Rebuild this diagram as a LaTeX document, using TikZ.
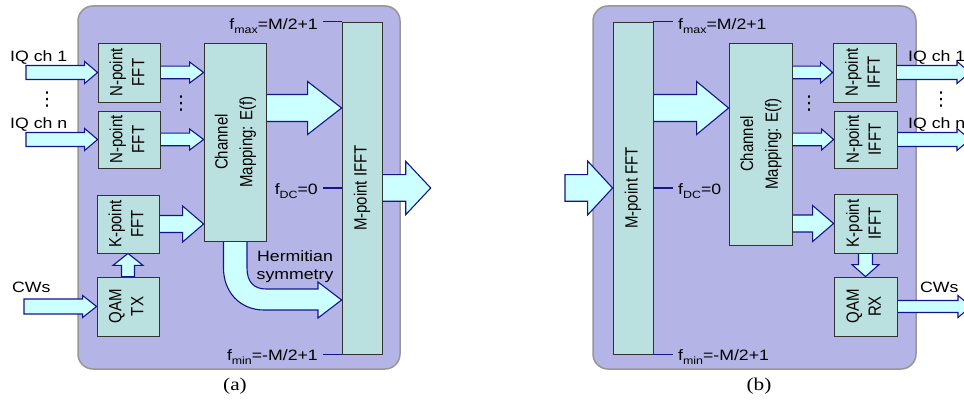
\documentclass[tikz,border=0pt]{standalone}
\usepackage{fontspec}
\setmainfont{Liberation Sans}
\newfontfamily\capfont{Liberation Serif}
\newfontfamily\symfont{DejaVu Sans}
\usetikzlibrary{calc}

\definecolor{panelfill}{RGB}{180,180,230}
\definecolor{paneledge}{RGB}{150,150,150}
\definecolor{boxfill}{RGB}{186,224,224}
\definecolor{boxedge}{RGB}{50,50,50}
\definecolor{arrfill}{RGB}{204,255,255}
\definecolor{arredge}{RGB}{20,20,140}

\pgfdeclarelayer{back}
\pgfdeclarelayer{mid}
\pgfsetlayers{back,mid,main}

% wide sans lettering
\newcommand\st[1]{\scalebox{1.18}[1]{#1}}
% two-line label reading bottom to top
\newcommand\vlab[2]{\st{\rotatebox{90}{\begin{tabular}{@{}c@{}}#1\\#2\end{tabular}}}}
\newcommand\sub[1]{\raisebox{-4pt}{\fontsize{10.5}{12}\selectfont #1}}
\newcommand\vdotz{{\symfont\fontsize{19}{20}\selectfont ⋮}}

% block arrow pointing right: from, to, shaft half width, head half width, head length
\newcommand\rblock[5]{\draw[blk] let \p1=(#1), \p2=(#2) in
  (\x1,\y1+#3pt) -- (\x2-#5pt,\y1+#3pt) -- (\x2-#5pt,\y1+#4pt) -- (\x2,\y1)
  -- (\x2-#5pt,\y1-#4pt) -- (\x2-#5pt,\y1-#3pt) -- (\x1,\y1-#3pt) -- cycle;}
% block arrow pointing up
\newcommand\ublock[5]{\draw[blk] let \p1=(#1), \p2=(#2) in
  (\x1-#3pt,\y1) -- (\x1-#3pt,\y2-#5pt) -- (\x1-#4pt,\y2-#5pt) -- (\x1,\y2)
  -- (\x1+#4pt,\y2-#5pt) -- (\x1+#3pt,\y2-#5pt) -- (\x1+#3pt,\y1) -- cycle;}
% block arrow pointing down
\newcommand\dblock[5]{\draw[blk] let \p1=(#1), \p2=(#2) in
  (\x1-#3pt,\y1) -- (\x1-#3pt,\y2+#5pt) -- (\x1-#4pt,\y2+#5pt) -- (\x1,\y2)
  -- (\x1+#4pt,\y2+#5pt) -- (\x1+#3pt,\y2+#5pt) -- (\x1+#3pt,\y1) -- cycle;}

\begin{document}
\begin{tikzpicture}[x=1pt,y=-1pt,
  every node/.style={font=\fontsize{15}{18.5}\selectfont, inner sep=0pt},
  panel/.style={fill=panelfill, draw=paneledge, line width=1.5pt, rounded corners=15pt},
  blockbox/.style={draw=boxedge, fill=boxfill, line width=0.8pt},
  blk/.style={draw=arredge, fill=arrfill, line width=1.1pt, line join=miter},
  tick/.style={draw=arredge, line width=1.2pt},
  caption/.style={font=\capfont\fontsize{18}{20}\selectfont, anchor=base}]

\useasboundingbox (0,0) rectangle (964,403);

\begin{pgfonlayer}{back}
  \path[panel] (78,6) rectangle (400,369);
  \path[panel] (593,6) rectangle (916,369);
\end{pgfonlayer}

% ---------------- (a) transmitter ----------------
\node[blockbox, minimum width=62pt, minimum height=59pt] (nfft1) at (129,72.5) {\vlab{N-point}{FFT}};
\node[blockbox, minimum width=62pt, minimum height=57pt] (nfft2) at (129,139.5) {\vlab{N-point}{FFT}};
\node[blockbox, minimum width=62pt, minimum height=58pt] (kfft) at (128,224) {\vlab{K-point}{FFT}};
\node[blockbox, minimum width=62pt, minimum height=59pt] (qamtx) at (128,306.5) {\vlab{QAM}{TX}};
\node[blockbox, minimum width=62pt, minimum height=198pt, font=\fontsize{15}{21}\selectfont] (cm) at (235,142) {\vlab{Channel}{Mapping: E(f)}};
\node[blockbox, minimum width=40pt, minimum height=332pt] (ifft) at (362,188) {\st{\rotatebox{90}{M-point IFFT}}};

\node[anchor=base west] (iq1) at (10,62) {\st{IQ ch 1}};
\node[anchor=base west] (iqn) at (10,128.3) {\st{IQ ch n}};
\node[anchor=base west] (cwa) at (12,293) {\st{CWs}};
\node (dotsa1) at (47,100) {\vdotz};
\node (dotsa2) at (181,104) {\vdotz};

\node[anchor=base east] (fmax) at (318,29.3) {\st{f\sub{max}=M/2+1}};
\node[anchor=base east] (fdc) at (318,195) {\st{f\sub{DC}=0}};
\node[anchor=base east] (fmin) at (318,360) {\st{f\sub{min}=-M/2+1}};
\draw[tick] ([xshift=5pt]fmax.east |- ifft.north west) -- (ifft.north west);
\draw[tick] ([xshift=5pt]fdc.east |- ifft.west) -- (ifft.west);
\draw[tick] ([xshift=5pt]fmin.east |- ifft.south west) -- (ifft.south west);

\node[anchor=base] (herm) at (295,261.7)
  {\st{\fontsize{15}{18.3}\selectfont\begin{tabular}[t]{@{}c@{}}Hermitian\\symmetry\end{tabular}}};

\node[caption] (capa) at (235,390) {\st{(a)}};

\coordinate (in1) at (26,72.5);
\coordinate (in2) at (26,139.5);
\coordinate (incw) at (24,306.5);
\coordinate (bigrow) at (0,108);
\coordinate (outa) at (430.7,188);

\begin{pgfonlayer}{mid}
  \rblock{in1}{nfft1.west}{7}{11}{13}
  \rblock{in2}{nfft2.west}{7}{11}{13}
  \rblock{incw}{qamtx.west}{7.5}{11}{14}
  \rblock{nfft1.east}{cm.west}{6.3}{10.5}{14}
  \rblock{nfft2.east}{cm.west}{6.3}{10.5}{14}
  \rblock{kfft.east}{cm.west}{8.5}{18}{21}
  \ublock{qamtx.north}{kfft.south}{6.5}{15}{12}
  \rblock{cm.east |- bigrow}{ifft.west}{13.5}{26.5}{34}
  \rblock{ifft.east}{outa}{13.3}{26.7}{25}
  % curved arrow from the mapping block into the IFFT
  \draw[blk] ([xshift=-11.5pt]cm.south) -- (223.5,268)
    .. controls (223.5,292) and (240,310) .. (264,310) -- (318,310) -- (318,318)
    -- (ifft.west |- 0,300) -- (318,282) -- (318,289) -- (266,289)
    .. controls (254,289) and (247,282) .. (247,268) -- ([xshift=12pt]cm.south) -- cycle;
\end{pgfonlayer}

% ---------------- (b) receiver ----------------
\node[blockbox, minimum width=40pt, minimum height=332pt] (fft) at (633,188) {\st{\rotatebox{90}{M-point FFT}}};
\node[blockbox, minimum width=63pt, minimum height=202pt, font=\fontsize{15}{21}\selectfont] (cmb) at (760.5,144) {\vlab{Channel}{Mapping: E(f)}};
\node[blockbox, minimum width=63pt, minimum height=59pt] (nifft1) at (864.5,72.5) {\vlab{N-point}{IFFT}};
\node[blockbox, minimum width=63pt, minimum height=57pt] (nifft2) at (865.5,139.5) {\vlab{N-point}{IFFT}};
\node[blockbox, minimum width=63pt, minimum height=59pt] (kifft) at (865.5,223.5) {\vlab{K-point}{IFFT}};
\node[blockbox, minimum width=63pt, minimum height=59pt] (qamrx) at (865.5,306.5) {\vlab{QAM}{RX}};

\node[anchor=base west] (oiq1) at (908,62) {\st{IQ ch 1}};
\node[anchor=base west] (oiqn) at (908,128.3) {\st{IQ ch n}};
\node[anchor=base west] (cwb) at (920,293) {\st{CWs}};
\node (dotsb1) at (809,104) {\vdotz};
\node (dotsb2) at (941,100) {\vdotz};

\node[anchor=base west] (fmaxb) at (678,29.3) {\st{f\sub{max}=M/2+1}};
\node[anchor=base west] (fdcb) at (678,195) {\st{f\sub{DC}=0}};
\node[anchor=base west] (fminb) at (678,360) {\st{f\sub{min}=-M/2+1}};
\draw[tick] (fft.north east) -- ([xshift=-5pt]fmaxb.west |- fft.north east);
\draw[tick] (fft.east) -- ([xshift=-5pt]fdcb.west |- fft.east);
\draw[tick] (fft.south east) -- ([xshift=-5pt]fminb.west |- fft.south east);

\node[caption] (capb) at (759,390) {\st{(b)}};

\coordinate (inb) at (565,188);
\coordinate (out1) at (970,72.5);
\coordinate (out2) at (970,139.5);
\coordinate (outcw) at (971,306.5);

\begin{pgfonlayer}{mid}
  \rblock{inb}{fft.west}{13.3}{27}{25}
  \rblock{fft.east |- bigrow}{cmb.west}{13.5}{26.5}{32}
  \rblock{cmb.east |- nifft1}{nifft1.west}{6.3}{10.5}{12}
  \rblock{cmb.east |- nifft2}{nifft2.west}{6.3}{10.5}{12}
  \rblock{cmb.east |- kifft}{kifft.west}{8.5}{18}{21}
  \dblock{kifft.south}{qamrx.north}{7}{13.5}{12}
  \rblock{nifft1.east}{out1}{7}{11}{13}
  \rblock{nifft2.east}{out2}{7}{11}{13}
  \rblock{qamrx.east}{outcw}{6}{11}{13}
\end{pgfonlayer}

\end{tikzpicture}
\end{document}
